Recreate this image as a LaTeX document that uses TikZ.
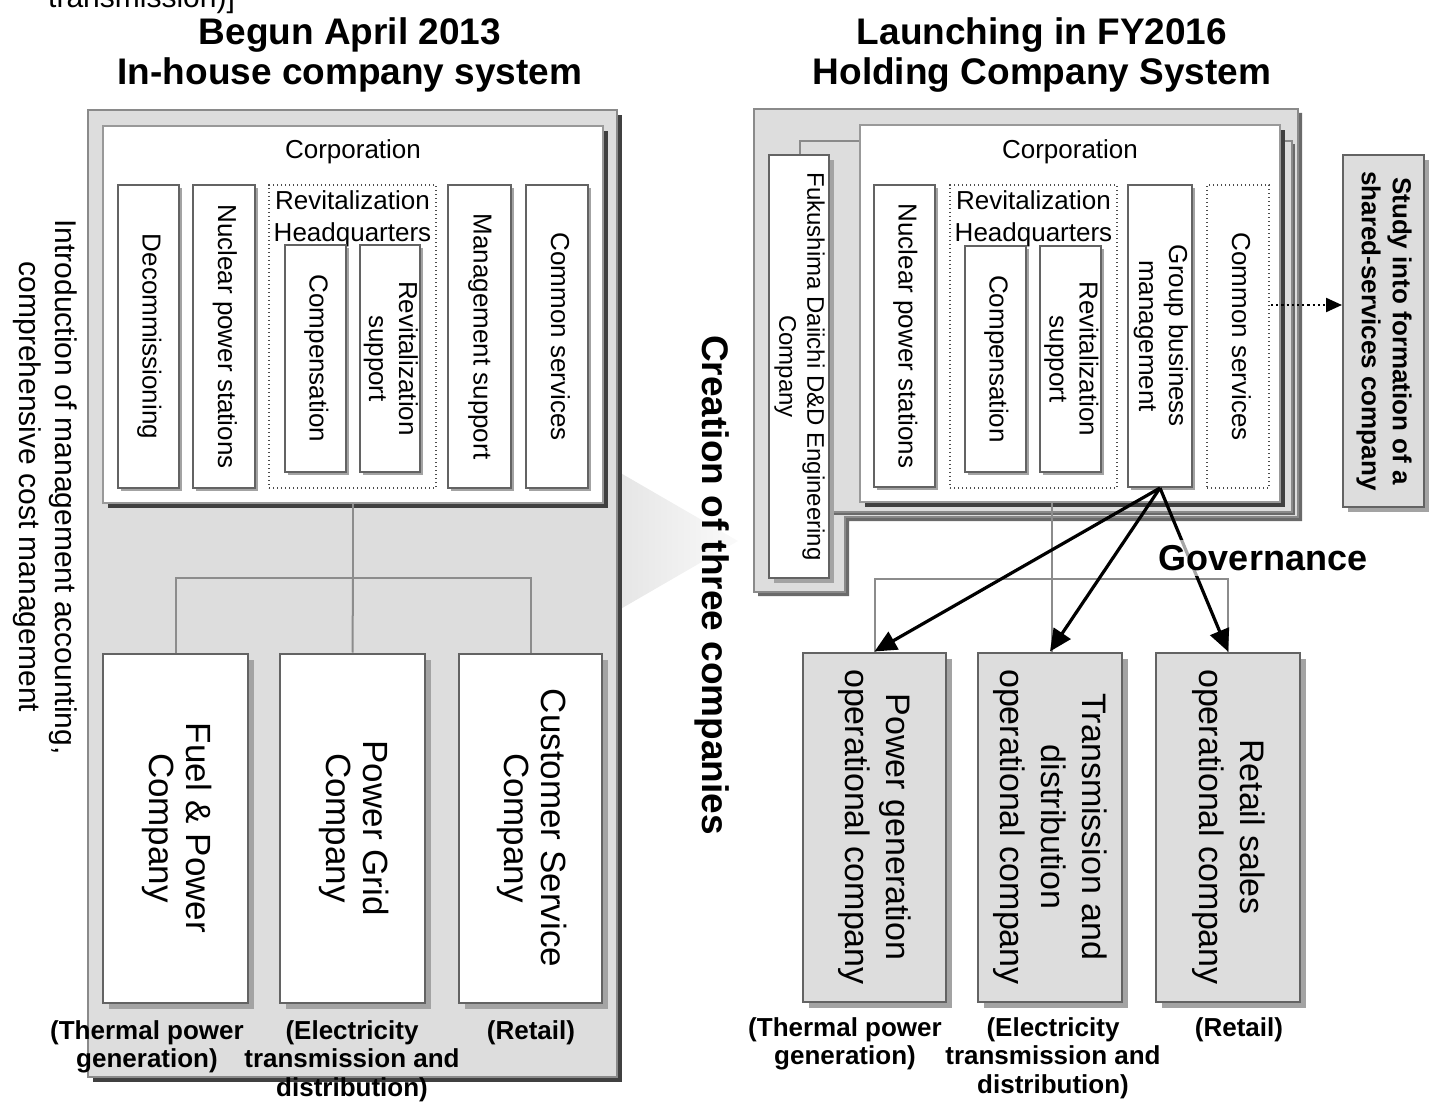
\documentclass[tikz,border=0pt]{standalone}
\usepackage{fontspec}
\setmainfont{Liberation Sans}
\usetikzlibrary{arrows.meta,shadows,calc}
\definecolor{panelfill}{HTML}{DDDDDD}
\definecolor{panelline}{HTML}{8A8A8A}
\definecolor{darksh}{HTML}{404040}
\definecolor{midsh}{HTML}{6A6A6A}
\definecolor{boxline}{HTML}{636363}
\definecolor{lightsh}{HTML}{A3A3A3}
\definecolor{connline}{HTML}{8C8C8C}
\newcommand{\vtext}[1]{\rotatebox{-90}{\begin{tabular}{@{}c@{}}#1\end{tabular}}}
\newcommand{\fsz}[2]{\fontsize{#1}{#2}\selectfont}
\begin{document}
\begin{tikzpicture}[x=1pt,y=-1pt,
  bigpanel/.style={draw=panelline,line width=2pt,fill=panelfill,inner sep=0pt},
  corpbox/.style={draw=black!40,line width=2pt,fill=white,inner sep=0pt,drop shadow={shadow xshift=5pt,shadow yshift=-5pt,fill=darksh,opacity=1}},
  unitbox/.style={draw=boxline,line width=2pt,fill=white,inner sep=0pt,font=\fsz{26}{30},drop shadow={shadow xshift=#1,shadow yshift=-#1,fill=lightsh,opacity=1}},
  unitbox/.default=3pt,
  dotbox/.style={draw=black!70,line width=1.4pt,dash pattern=on 1.4pt off 2.6pt,inner sep=0pt,font=\fsz{26}{30}},
  compbox/.style={draw=boxline,line width=2pt,inner sep=0pt,minimum height=349pt,drop shadow={shadow xshift=6pt,shadow yshift=-6pt,fill=lightsh,opacity=1}},
  subcap/.style={font=\bfseries\fsz{26}{28.5},align=center,inner sep=0pt,anchor=north},
  titletext/.style={font=\bfseries\fsz{37}{40},align=center,inner sep=0pt,anchor=north},
  conn/.style={draw=connline,line width=2pt},
  govarrow/.style={draw=black,line width=3.2pt,-{Triangle[length=22pt,width=20pt]}},
  hqlabel/.style={font=\fsz{26}{32},align=center,inner sep=0pt,anchor=north}
]
\useasboundingbox (0,0) rectangle (1436,1110);

% cut-off text at the top
\node[font=\fsz{30}{34},anchor=base west,inner sep=0pt] (cut) at (48,8) {transmission)]};

% titles
\node[titletext] (titleL) at (350,17) {Begun April 2013\\In-house company system};
\node[titletext] (titleR) at (1042,17) {Launching in FY2016\\Holding Company System};

% gradient arrow between the panels
\shade[left color=black!11,right color=black!2] (605,464) -- (738,541) -- (605,618) -- cycle;

% ---------- left panel ----------
\node[bigpanel,minimum width=529pt,minimum height=967pt,drop shadow={shadow xshift=5pt,shadow yshift=-5pt,fill=darksh,opacity=1}] (lpanel) at (352.5,593.5) {};
\node[corpbox,minimum width=500pt,minimum height=377pt] (corpL) at (353,314.5) {};
\node[font=\fsz{26}{30},inner sep=0pt] (corpLt) at (353,152) {Corporation};
\node[unitbox,minimum width=61pt,minimum height=303pt] (decL) at (148.5,336.5) {\vtext{Decommissioning}};
\node[unitbox,minimum width=62pt,minimum height=303pt] (nucL) at (224,336.5) {\vtext{Nuclear power stations}};
\node[dotbox,minimum width=167pt,minimum height=303pt] (rhqL) at (352.5,336.5) {};
\node[hqlabel] (rhqLt) at (352.5,190) {Revitalization\\Headquarters};
\node[unitbox,minimum width=61pt,minimum height=227pt] (compL) at (315.5,358.5) {\vtext{Compensation}};
\node[unitbox,minimum width=60pt,minimum height=227pt] (rsupL) at (390,358.5) {\vtext{Revitalization\\support}};
\node[unitbox,minimum width=63pt,minimum height=303pt] (mgmtL) at (479.5,336.5) {\vtext{Management support}};
\node[unitbox,minimum width=62pt,minimum height=303pt] (comL) at (557,336.5) {\vtext{Common services}};

\node[compbox,fill=white,minimum width=145pt,font=\fsz{35}{37}] (fuel) at (175.5,828) {\vtext{Fuel \& Power\\Company}};
\node[compbox,fill=white,minimum width=145pt,font=\fsz{35}{37}] (grid) at (352.5,828) {\vtext{Power Grid\\Company}};
\node[compbox,fill=white,minimum width=143pt,font=\fsz{35}{37}] (cust) at (530.5,828) {\vtext{Customer Service\\Company}};

\coordinate (lj) at (353,578);
\draw[conn] (corpL.south) -- (lj);
\draw[conn] (fuel.north) |- (lj) -| (cust.north);
\draw[conn] (lj) -- (grid.north);

\node[font=\fsz{30}{36},inner sep=0pt] (intro) at (45,487) {\vtext{Introduction of management accounting,\\comprehensive cost management}};

\node[subcap] (capL1) at (147,1020) {(Thermal power\\generation)};
\node[subcap] (capL2) at (352,1020) {(Electricity\\transmission and\\distribution)};
\node[subcap] (capL3) at (531,1020) {(Retail)};

% ---------- middle ----------
\node[font=\bfseries\fsz{37}{40},rotate=-90,inner sep=0pt] (creation) at (712,585) {Creation of three companies};

% ---------- right panel ----------
\draw[draw=panelline,line width=2pt,fill=panelfill,drop shadow={shadow xshift=4pt,shadow yshift=-4pt,fill=midsh,opacity=1}]
  (754,109) -- (1298,109) -- (1298,517) -- (845,517) -- (845,592) -- (754,592) -- cycle;
\node[bigpanel,minimum width=492pt,minimum height=371pt,anchor=north west,drop shadow={shadow xshift=3pt,shadow yshift=-3pt,fill=midsh,opacity=1}] (layer2) at (799,140) {};
\node[unitbox=5pt,minimum width=60pt,minimum height=423pt,font=\fsz{24}{28}] (fuku) at (799,366.5) {\vtext{Fukushima Daiichi D\&D Engineering\\Company}};
\node[corpbox,minimum width=420pt,minimum height=377pt] (corpR) at (1070,313.5) {};
\node[font=\fsz{26}{30},inner sep=0pt] (corpRt) at (1070,152) {Corporation};
\node[unitbox,minimum width=61pt,minimum height=302pt] (nucR) at (904.5,336) {\vtext{Nuclear power stations}};
\node[dotbox,minimum width=167pt,minimum height=303pt] (rhqR) at (1033.5,336.5) {};
\node[hqlabel] (rhqRt) at (1033.5,190) {Revitalization\\Headquarters};
\node[unitbox,minimum width=61pt,minimum height=226pt] (compR) at (995.5,359) {\vtext{Compensation}};
\node[unitbox,minimum width=61pt,minimum height=226pt] (rsupR) at (1070.5,359) {\vtext{Revitalization\\support}};
\node[unitbox,minimum width=64pt,minimum height=302pt] (gbm) at (1160,336) {\vtext{Group business\\management}};
\node[dotbox,fill=white,minimum width=62pt,minimum height=303pt] (comR) at (1238,336.5) {\vtext{Common services}};

\node[draw=boxline,line width=2pt,fill=panelfill,inner sep=0pt,minimum width=81pt,minimum height=352pt,font=\bfseries\fsz{26}{31},drop shadow={shadow xshift=5pt,shadow yshift=-5pt,fill=lightsh,opacity=1}] (study) at (1383.5,331) {\vtext{Study into formation of a\\shared-services company}};
\coordinate (dstart) at (1271,305);
\draw[line width=2.2pt,dash pattern=on 2.2pt off 3pt,-{Triangle[length=16pt,width=14pt]}] (dstart) -- (dstart -| study.west);

\node[compbox,fill=panelfill,minimum width=143pt,font=\fsz{34}{41}] (pgen) at (874.5,827) {\vtext{Power generation\\operational company}};
\node[compbox,fill=panelfill,minimum width=144pt,font=\fsz{34}{41}] (tdco) at (1050,827) {\vtext{Transmission and\\distribution\\operational company}};
\node[compbox,fill=panelfill,minimum width=144pt,font=\fsz{34}{41}] (rsco) at (1228,827) {\vtext{Retail sales\\operational company}};

\coordinate (rj) at (1052,579);
\draw[conn] (rj |- corpR.south) -- (rj);
\draw[conn] (pgen.north) |- (rj) -| (rsco.north);
\draw[conn] (rj) -- (rj |- tdco.north);

\draw[govarrow] (gbm.south) -- (pgen.north);
\draw[govarrow] (gbm.south) -- (tdco.north);
\draw[govarrow] (gbm.south) -- (rsco.north);

\node[font=\bfseries\fsz{36}{40},fill=white,fill opacity=0.65,text opacity=1,inner xsep=3pt,inner ysep=5pt] (gov) at (1263,558) {Governance};

\node[subcap] (capR1) at (845,1017) {(Thermal power\\generation)};
\node[subcap] (capR2) at (1053,1017) {(Electricity\\transmission and\\distribution)};
\node[subcap] (capR3) at (1239,1017) {(Retail)};
\end{tikzpicture}
\end{document}
